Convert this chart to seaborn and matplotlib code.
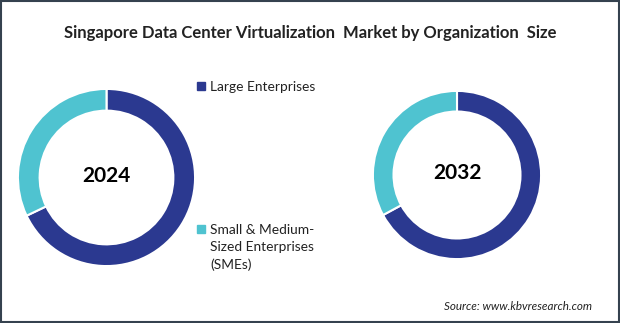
import matplotlib
matplotlib.use("Agg")
import matplotlib.pyplot as plt
import seaborn as sns
from matplotlib.patches import Rectangle
from matplotlib.lines import Line2D

sns.set_theme(style="white")
plt.rcParams['font.family'] = ['Lato', 'DejaVu Sans']

categories = ["Large Enterprises", "Small & Medium-\nSized Enterprises\n(SMEs)"]
years = ["2024", "2032"]
values_2024 = [67.9, 32.1]
values_2032 = [67.1, 32.9]
colors = sns.color_palette(["#2B3990", "#4FC3D0"])

W, H = 620, 323
fig = plt.figure(figsize=(W / 100, H / 100), dpi=100)
fig.patch.set_facecolor("white")

def add_donut(cx, cy, r, vals, label):
    ax = fig.add_axes([(cx - r) / W, (H - cy - r) / H, 2 * r / W, 2 * r / H])
    ax.pie(vals, colors=colors, startangle=90, counterclock=False, radius=1,
           wedgeprops=dict(width=0.245, edgecolor="white", linewidth=1.5))
    ax.set_xlim(-1.005, 1.005)
    ax.set_ylim(-1.005, 1.005)
    ax.set_aspect("equal")
    ax.axis("off")
    ax.text(0, 0.02, label, ha="center", va="center", fontsize=15, fontweight="bold",
            color="black")
    return ax

add_donut(106.5, 177.5, 89, values_2024, years[0])
add_donut(457, 175, 84.5, values_2032, years[1])

fig.text(310 / W, 1 - 33 / H, "Singapore Data Center Virtualization  Market by Organization  Size",
         ha="center", va="center", fontsize=12, fontweight="bold", color="#222222")

# legend entries (marker aligned with first line of each label)
ypos = [86, 229]
for cat, col, y in zip(categories, colors, ypos):
    fig.add_artist(Line2D([201 / W], [1 - y / H], marker="s", linestyle="none",
                          markersize=6, color=col, transform=fig.transFigure))
    fig.text(210 / W, 1 - (y - 5) / H, cat, ha="left", va="top", fontsize=9.9,
             color="#222222", linespacing=1.5)

fig.text(592 / W, 1 - 307 / H, "Source: www.kbvresearch.com", ha="right", va="center",
         fontsize=8.4, style="italic", color="#222222")

fig.add_artist(Rectangle((0.0015, 0.003), 0.997, 0.994, transform=fig.transFigure,
                         fill=False, edgecolor="#35424F", linewidth=1.5))

fig.savefig("out.png", dpi=100, facecolor="white")
